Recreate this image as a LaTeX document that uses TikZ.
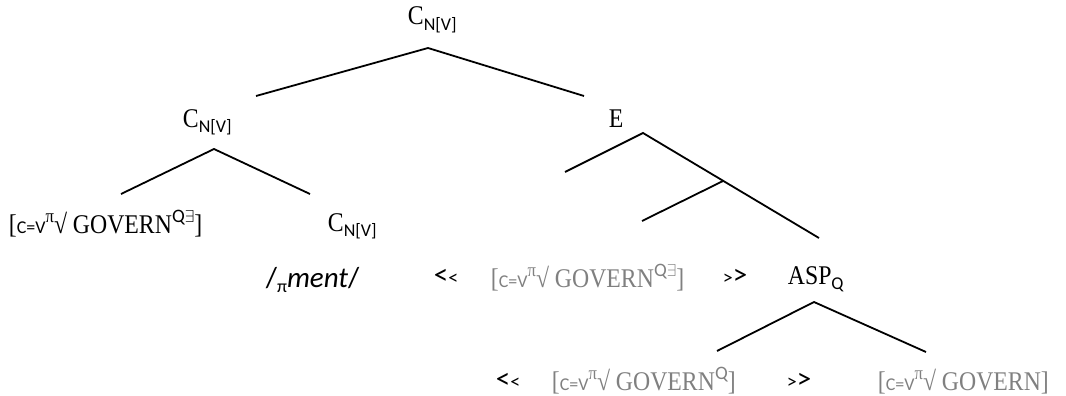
\documentclass[tikz,border=0pt]{standalone}
\usepackage{fontspec}
\setmainfont{Liberation Serif}[FakeStretch=0.88]
\newfontfamily\calibri{Carlito}
\usetikzlibrary{positioning}
\definecolor{lightgr}{RGB}{128,128,128}
\newcommand{\lsub}[1]{\raisebox{-0.2em}{\fontsize{18}{18}\selectfont\calibri #1}}
\newcommand{\lsup}[1]{\raisebox{0.4em}{\fontsize{19}{19}\selectfont #1}}
\newcommand{\govern}[1]{[{\fontsize{18}{18}\selectfont\calibri C=V}\lsup{π}√ GOVERN\lsup{\calibri #1}]}
\newcommand{\ltlt}{<{\fontsize{20}{20}\selectfont<}}
\newcommand{\gtgt}{{\fontsize{20}{20}\selectfont>}>}

\begin{document}
\begin{tikzpicture}[x=1pt, y=-1pt, line width=1.8pt,
  every node/.style={inner sep=0pt, anchor=base west, font=\fontsize{27}{29}\selectfont},
  faded/.style={text=lightgr},
  angle/.style={font=\fontsize{29}{31}\selectfont\calibri}]
  \useasboundingbox (0,0) rectangle (1066,396);
  % labels, placed by baseline
  \node (root) at (407,25) {C\lsub{N[V]}};
  \node (cleft) at (182,127) {C\lsub{N[V]}};
  \node (ehead) at (608,128) {E};
  \node (rootgov) at (8,233) {\govern{Q$\exists$}};
  \node (cright) at (327,231) {C\lsub{N[V]}};
  \node[angle] (ment) at (265,287) {/\lsub{π}\textit{ment}/};
  \node[angle] (lt) at (433,284) {\ltlt};
  \node[faded] (midgov) at (490,287) {\govern{Q$\exists$}};
  \node[angle] (gt) at (722,284) {\gtgt};
  \node (asp) at (787,284) {ASP\lsub{Q}};
  \node[angle] (ltb) at (495,388) {\ltlt};
  \node[faded] (qgov) at (551,390) {\govern{Q}};
  \node[angle] (gtb) at (786,388) {\gtgt};
  \node[faded] (plaingov) at (877,390) {\govern{}};
  % branch points
  \coordinate (r0) at (428,48);  \coordinate (r1) at (256,96);  \coordinate (r2) at (584,96);
  \coordinate (c0) at (214,149); \coordinate (c1) at (121,194); \coordinate (c2) at (310,194);
  \coordinate (e0) at (643,133); \coordinate (e1) at (565,172); \coordinate (e2) at (819,238);
  \coordinate (j0) at (723,181); \coordinate (j1) at (642,221);
  \coordinate (a0) at (814,302); \coordinate (a1) at (717,351); \coordinate (a2) at (926,352);
  % branches
  \draw (r1) -- (r0) -- (r2);
  \draw (c1) -- (c0) -- (c2);
  \draw (e1) -- (e0) -- (e2);
  \draw (j0) -- (j1);
  \draw (a1) -- (a0) -- (a2);
\end{tikzpicture}
\end{document}
